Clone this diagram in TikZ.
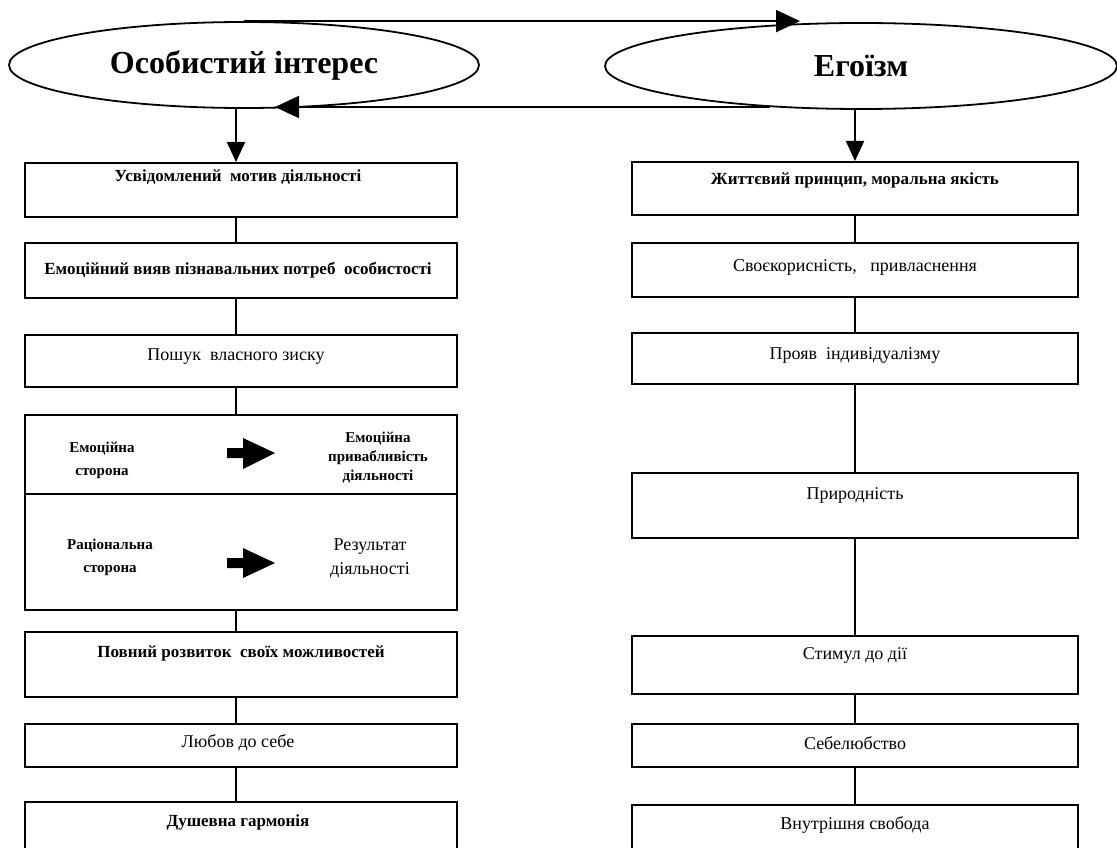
\documentclass[tikz,border=0pt]{standalone}
\usepackage{fontspec}
\setmainfont{Liberation Serif}
\usetikzlibrary{arrows.meta,shapes.geometric}
\begin{document}
\begin{tikzpicture}[x=1pt,y=-1pt,
  bx/.style={draw,line width=2pt,rectangle,inner sep=0pt,minimum width=432pt},
  rbx/.style={draw,line width=2pt,rectangle,inner sep=0pt,minimum width=446pt},
  tx/.style={font=\fontsize{18}{21}\selectfont,inner sep=0pt,align=center},
  txb/.style={font=\fontsize{17}{20}\selectfont\bfseries,inner sep=0pt,align=center},
  stxb/.style={font=\fontsize{15}{19}\selectfont\bfseries,inner sep=0pt,align=center},
  oval/.style={draw,ellipse,line width=1.8pt,inner sep=0pt,font=\fontsize{32}{36}\selectfont\bfseries},
  conn/.style={line width=2pt},
  arr/.style={line width=2pt,-{Triangle[length=20pt,width=18pt]}},
  harr/.style={line width=2pt,-{Triangle[length=24pt,width=22pt]}},
  fat/.style={fill=black,draw=none}
]
\useasboundingbox (0,0) rectangle (1117,848);
\fill[white] (0,0) rectangle (1117,848);

% ellipses
\node[oval,minimum width=470pt,minimum height=86pt] (lell) at (244,65) {Особистий інтерес};
\node[oval,minimum width=512pt,minimum height=86pt] (rell) at (861,66) {Егоїзм};

% horizontal arrows
\coordinate (tipT) at (800,22);
\coordinate (startB) at (770,107);
\coordinate (tipB) at (275,107);
\draw[harr] (lell.north) -- (lell.north -| tipT);
\draw[harr] (startB) -- (tipB);

% left column
\coordinate (colL) at (236,0);
\node[bx,minimum height=54pt] (L1) at (241,190) {};
\node[bx,minimum height=55pt] (L2) at (241,270.5) {};
\node[bx,minimum height=52pt] (L3) at (241,361) {};
\node[bx,minimum height=79pt] (L4a) at (241,454.5) {};
\node[bx,minimum height=116pt] (L4b) at (241,552) {};
\node[bx,minimum height=65pt] (L5) at (241,664.5) {};
\node[bx,minimum height=43pt] (L6) at (241,745.5) {};
\node[bx,minimum height=60pt] (L7) at (241,832) {};

\node[txb] (tL1) at (238,177) {Усвідомлений\ \ мотив діяльності};
\node[txb] (tL2) at (238,270) {Емоційний вияв пізнавальних потреб\ \ особистості};
\node[tx] (tL3) at (236,357) {Пошук\ \ власного зиску};
\node[stxb] (tL4a) at (102,460) {Емоційна\\[4pt]сторона};
\node[stxb] (tL4b) at (378,458) {Емоційна\\привабливість\\діяльності};
\node[stxb] (tL4c) at (110,557) {Раціональна\\[4pt]сторона};
\node[tx] (tL4d) at (370,558) {Результат\\[3pt]діяльності};
\node[txb] (tL5) at (241,653) {Повний розвиток\ \ своїх можливостей};
\node[tx] (tL6) at (238,743) {Любов до себе};
\node[txb] (tL7) at (238,822) {Душевна гармонія};

% fat arrows
\fill[fat] (227,448) -- (243,448) -- (243,438) -- (275,453) -- (243,469) -- (243,458) -- (227,458) -- cycle;
\fill[fat] (227,558) -- (243,558) -- (243,548) -- (275,563) -- (243,578) -- (243,568) -- (227,568) -- cycle;

% right column
\node[rbx,minimum height=53pt] (R1) at (855,188.5) {};
\node[rbx,minimum height=54pt] (R2) at (855,270) {};
\node[rbx,minimum height=51pt] (R3) at (855,358.5) {};
\node[rbx,minimum height=65pt] (R4) at (855,505.5) {};
\node[rbx,minimum height=58pt] (R5) at (855,665) {};
\node[rbx,minimum height=43pt] (R6) at (855,745.5) {};
\node[rbx,minimum height=60pt] (R7) at (855,835) {};

\node[txb] (tR1) at (855,180) {Життєвий принцип, моральна якість};
\node[tx] (tR2) at (855,267) {Своєкорисність,\ \ \ привласнення};
\node[tx] (tR3) at (855,355) {Прояв\ \ індивідуалізму};
\node[tx] (tR4) at (855,495) {Природність};
\node[tx] (tR5) at (855,655) {Стимул до дії};
\node[tx] (tR6) at (855,743) {Себелюбство};
\node[tx] (tR7) at (855,825) {Внутрішня свобода};

% connectors left
\draw[arr] (lell.south -| colL) -- (L1.north -| colL);
\draw[conn] (L1.south -| colL) -- (L2.north -| colL);
\draw[conn] (L2.south -| colL) -- (L3.north -| colL);
\draw[conn] (L3.south -| colL) -- (L4a.north -| colL);
\draw[conn] (L4b.south -| colL) -- (L5.north -| colL);
\draw[conn] (L5.south -| colL) -- (L6.north -| colL);
\draw[conn] (L6.south -| colL) -- (L7.north -| colL);

% connectors right
\draw[arr] (rell.south -| R1.north) -- (R1.north);
\draw[conn] (R1.south) -- (R2.north);
\draw[conn] (R2.south) -- (R3.north);
\draw[conn] (R3.south) -- (R4.north);
\draw[conn] (R4.south) -- (R5.north);
\draw[conn] (R5.south) -- (R6.north);
\draw[conn] (R6.south) -- (R7.north);
\end{tikzpicture}
\end{document}
